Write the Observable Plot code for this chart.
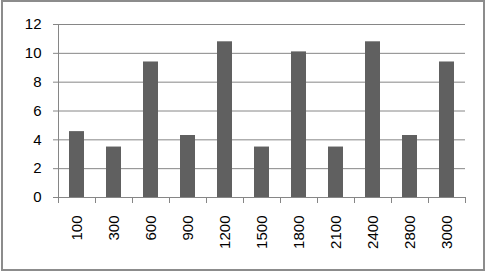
<!DOCTYPE html>
<html><head><meta charset="utf-8">
<script src="https://cdn.jsdelivr.net/npm/d3@7"></script>
<script src="https://cdn.jsdelivr.net/npm/@observablehq/plot@0.6"></script>
<style>
body{margin:0;background:#fff;}
#wrap{position:relative;width:490px;height:273px;overflow:hidden;}
#frame{position:absolute;left:1px;top:0;width:480px;height:267px;border:2px solid #8c8c8c;pointer-events:none;}
</style></head><body><div id="wrap"><div id="frame"></div></div>
<script>
const categories = ["100","300","600","900","1200","1500","1800","2100","2400","2800","3000"];
const values = [4.57, 3.5, 9.4, 4.3, 10.8, 3.5, 10.1, 3.5, 10.8, 4.3, 9.4];
const yTicks = [0, 2, 4, 6, 8, 10, 12];
const data = categories.map((c, i) => ({cat: c, value: values[i]}));

const W = 490, H = 273, ML = 58, MR = 25, MT = 24, MB = 76;
const half = (W - ML - MR) / categories.length / 2;
const gray = "#868686";

const chart = Plot.plot({
  width: W, height: H, marginLeft: ML, marginRight: MR, marginTop: MT, marginBottom: MB,
  style: {fontFamily: "Liberation Sans", fontSize: "15px", color: "#000", background: "transparent"},
  x: {domain: categories, paddingInner: 0.6, paddingOuter: 0.3, label: null, axis: null},
  y: {domain: [0, 12], label: null, axis: null},
  marks: [
    Plot.gridY(yTicks, {stroke: gray, strokeOpacity: 1}),
    Plot.barY(data, {x: "cat", y: "value", fill: "#606060"}),
    Plot.ruleY([0], {stroke: gray}),
    Plot.ruleX([categories[0]], {dx: -half, stroke: gray}),
    Plot.ruleX(categories, {x: d => d, y1: 0, y2: 0, insetBottom: -6, dx: -half, stroke: gray}),
    Plot.ruleX([categories[categories.length - 1]], {x: d => d, y1: 0, y2: 0, insetBottom: -6, dx: half, stroke: gray}),
    Plot.axisY(yTicks, {tickSize: 5, tickPadding: 12, stroke: gray, fill: "#000", label: null}),
    Plot.axisX({tickSize: 0, tickPadding: 18, tickRotate: -90, fill: "#000", label: null})
  ]
});
document.getElementById("wrap").prepend(chart);
</script>
</body></html>
